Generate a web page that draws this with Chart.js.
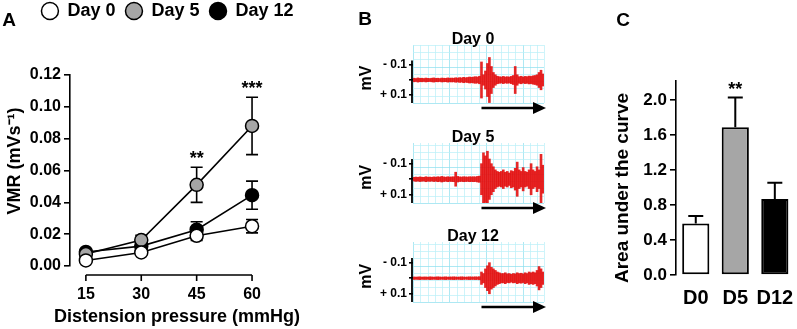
<!DOCTYPE html>
<html>
<head>
<meta charset="utf-8">
<title>VMR / EMG / AUC</title>
<script src="https://cdn.jsdelivr.net/npm/chart.js@4.4.1/dist/chart.umd.min.js"></script>
<style>
  html, body { margin: 0; padding: 0; background: #fff; }
  body { position: relative; width: 797px; height: 329px; overflow: hidden; }
  canvas { position: absolute; }
</style>
</head>
<body>
<canvas id="chart-a" width="335" height="337" style="left:0;top:-8px"></canvas>
<canvas id="trace-0" width="195" height="118" style="left:355px;top:0"></canvas>
<canvas id="trace-5" width="195" height="98" style="left:355px;top:118px"></canvas>
<canvas id="trace-12" width="195" height="113" style="left:355px;top:216px"></canvas>
<canvas id="chart-c" width="200" height="329" style="left:605px;top:0"></canvas>
<script>
/* ---------- Data (A) ---------- */
var PRESSURES = [15, 30, 45, 60];
var VMR_DAY0 = [0.0035, 0.0085, 0.019, 0.025];
var SEM_DAY0 = [0.001, 0.0012, 0.003, 0.0042];
var VMR_DAY5 = [0.0075, 0.0163, 0.051, 0.088];
var SEM_DAY5 = [0.001, 0.003, 0.011, 0.018];
var VMR_DAY12 = [0.0088, 0.0125, 0.0228, 0.0445];
var SEM_DAY12 = [0.001, 0.002, 0.005, 0.0088];
var VMR_TICKS = [0, 0.02, 0.04, 0.06, 0.08, 0.10, 0.12];

/* ---------- Data (B): trace envelope, mV per sample ---------- */
var TRACE_TICKS = [-0.1, 0, 0.1];
var TRACE_DAY0 = [
  0.012, 0.01, 0.014, 0.011, 0.012, 0.01, 0.013, 0.011, 0.01, 0.012,
  0.014, 0.011, 0.012, 0.01, 0.013, 0.012, 0.011, 0.014, 0.012, 0.013,
  0.012, 0.015, 0.013, 0.016, 0.014, 0.018, 0.015, 0.017, 0.02, 0.018,
  0.02, 0.022, 0.02, 0.025, 0.12, 0.035, 0.06, 0.11, 0.15, 0.09,
  0.05, 0.035, 0.025, 0.022, 0.02, 0.024, 0.02, 0.022, 0.02, 0.024,
  0.03, 0.09, 0.035, 0.022, 0.025, 0.02, 0.024, 0.022, 0.026, 0.024,
  0.028, 0.03, 0.035, 0.05, 0.065, 0.04
];
var TRACE_DAY5 = [
  0.012, 0.014, 0.012, 0.015, 0.013, 0.012, 0.016, 0.013, 0.014, 0.012,
  0.015, 0.013, 0.016, 0.014, 0.018, 0.015, 0.013, 0.016, 0.014, 0.015,
  0.016, 0.045, 0.018, 0.015, 0.014, 0.016, 0.015, 0.014, 0.016, 0.015,
  0.016, 0.015, 0.018, 0.02, 0.1, 0.17, 0.15, 0.18, 0.13, 0.1,
  0.08, 0.06, 0.05, 0.045, 0.05, 0.06, 0.045, 0.05, 0.04, 0.055,
  0.05, 0.07, 0.11, 0.06, 0.05, 0.075, 0.05, 0.045, 0.06, 0.1,
  0.06, 0.05, 0.08, 0.06, 0.16, 0.09
];
var TRACE_DAY12 = [
  0.008, 0.007, 0.008, 0.009, 0.007, 0.008, 0.008, 0.007, 0.009, 0.008,
  0.007, 0.008, 0.009, 0.008, 0.007, 0.008, 0.009, 0.007, 0.008, 0.008,
  0.009, 0.008, 0.007, 0.008, 0.009, 0.008, 0.007, 0.008, 0.009, 0.008,
  0.008, 0.009, 0.008, 0.01, 0.04, 0.03, 0.06, 0.08, 0.1, 0.07,
  0.06, 0.05, 0.04, 0.035, 0.03, 0.03, 0.035, 0.028, 0.03, 0.025,
  0.03, 0.028, 0.035, 0.03, 0.032, 0.028, 0.035, 0.03, 0.04, 0.035,
  0.04, 0.035, 0.05, 0.075, 0.06, 0.04
];

/* ---------- Data (C) ---------- */
var AUC_GROUPS = ['D0', 'D5', 'D12'];
var AUC_VALUES = [0.59, 1.69, 0.87];
var AUC_SEM = [0.085, 0.34, 0.185];
var AUC_TICKS = [0, 0.4, 0.8, 1.2, 1.6, 2.0];

var FONT = "'Liberation Sans', Arial, sans-serif";
var GREY = '#a6a6a6';
Chart.defaults.font.family = FONT;
Chart.defaults.color = '#000';

function bold(size) { return { family: FONT, weight: 'bold', size: size }; }

function putText(ctx, text, x, y, size, align, baseline, rotate) {
  ctx.save();
  ctx.font = 'bold ' + size + 'px ' + FONT;
  ctx.fillStyle = '#000';
  ctx.textAlign = align || 'center';
  ctx.textBaseline = baseline || 'middle';
  ctx.translate(x, y);
  if (rotate) ctx.rotate(-Math.PI / 2);
  ctx.fillText(text, 0, 0);
  ctx.restore();
}

function points(values) {
  return values.map(function (v, i) { return { x: PRESSURES[i], y: v }; });
}

/* ---------- Panel A ---------- */
var legendGap = {
  id: 'legendGap',
  beforeInit: function (chart) {
    var fit = chart.legend.fit;
    chart.legend.fit = function () { fit.call(this); this.height += 45; };
  }
};

var errorBarsA = {
  id: 'errorBarsA',
  beforeDatasetsDraw: function (chart) {
    var ctx = chart.ctx, x = chart.scales.x, y = chart.scales.y;
    ctx.save();
    ctx.strokeStyle = '#000';
    ctx.lineWidth = 1.6;
    chart.data.datasets.forEach(function (ds) {
      ds.data.forEach(function (p, i) {
        var px = x.getPixelForValue(p.x);
        var top = y.getPixelForValue(p.y + ds.sem[i]);
        var bot = y.getPixelForValue(p.y - ds.sem[i]);
        ctx.beginPath();
        ctx.moveTo(px, top); ctx.lineTo(px, bot);
        ctx.moveTo(px - 6, top); ctx.lineTo(px + 6, top);
        ctx.moveTo(px - 6, bot); ctx.lineTo(px + 6, bot);
        ctx.stroke();
      });
    });
    ctx.restore();
  }
};

var decorA = {
  id: 'decorA',
  afterDraw: function (chart) {
    var ctx = chart.ctx, x = chart.scales.x, y = chart.scales.y, area = chart.chartArea;
    var axisY = area.bottom + 9;
    ctx.save();
    ctx.strokeStyle = '#000';
    ctx.lineWidth = 1.6;
    ctx.beginPath();
    ctx.moveTo(x.getPixelForValue(PRESSURES[0]), axisY);
    ctx.lineTo(x.getPixelForValue(PRESSURES[PRESSURES.length - 1]), axisY);
    PRESSURES.forEach(function (p) {
      ctx.moveTo(x.getPixelForValue(p), axisY);
      ctx.lineTo(x.getPixelForValue(p), axisY + 6);
    });
    ctx.stroke();
    ctx.restore();

    putText(ctx, 'A', 9, 29, 19);
    putText(ctx, 'VMR (mVs\u207B\u00B9)', 15, 169, 18, 'center', 'middle', true);
    putText(ctx, 'Distension pressure (mmHg)', 177, 325, 18);
    putText(ctx, '**', x.getPixelForValue(PRESSURES[2]), y.getPixelForValue(VMR_DAY5[2] + SEM_DAY5[2]) - 3, 18, 'center', 'alphabetic');
    putText(ctx, '***', x.getPixelForValue(PRESSURES[3]), y.getPixelForValue(VMR_DAY5[3] + SEM_DAY5[3]) - 3, 18, 'center', 'alphabetic');
  }
};

function seriesA(label, values, sem, fill) {
  return {
    label: label, data: points(values), sem: sem,
    borderColor: '#000', borderWidth: 1.6, backgroundColor: fill,
    pointBackgroundColor: fill, pointBorderColor: '#000', pointBorderWidth: 1.5,
    pointRadius: 6.5, pointStyle: 'circle', tension: 0, clip: false
  };
}

new Chart(document.getElementById('chart-a'), {
  type: 'line',
  data: {
    datasets: [
      seriesA('Day 0', VMR_DAY0, SEM_DAY0, '#fff'),
      seriesA('Day 5', VMR_DAY5, SEM_DAY5, GREY),
      seriesA('Day 12', VMR_DAY12, SEM_DAY12, '#000')
    ]
  },
  options: {
    responsive: false,
    animation: false,
    layout: { padding: 0 },
    plugins: {
      tooltip: { enabled: false },
      legend: {
        position: 'top',
        labels: { usePointStyle: true, boxWidth: 17, boxHeight: 12, padding: 10, color: '#000', font: bold(18) }
      }
    },
    scales: {
      x: {
        type: 'linear', min: 10.7, max: 80.3,
        afterBuildTicks: function (s) { s.ticks = PRESSURES.map(function (v) { return { value: v }; }); },
        afterFit: function (s) { s.height = 63; },
        border: { display: false },
        grid: { display: false, drawTicks: false },
        ticks: { padding: 19, color: '#000', font: bold(16) }
      },
      y: {
        min: 0, max: 0.12,
        afterBuildTicks: function (s) { s.ticks = VMR_TICKS.map(function (v) { return { value: v }; }); },
        afterFit: function (s) { s.width = 70; },
        border: { display: true, color: '#000', width: 1.6 },
        grid: { drawOnChartArea: false, tickLength: 6, color: '#000', lineWidth: 1.6 },
        ticks: { padding: 3, color: '#000', font: bold(16), callback: function (v) { return v.toFixed(2); } }
      }
    }
  },
  plugins: [legendGap, errorBarsA, decorA]
});

/* ---------- Panel B ---------- */
var TRACE_MIN = -0.233, TRACE_MAX = 0.153;

function traceDecor(title, letter) {
  return {
    id: 'traceDecor',
    beforeDatasetsDraw: function (chart) {
      var ctx = chart.ctx, a = chart.chartArea, k, gx, gy;
      ctx.save();
      ctx.lineWidth = 1;
      for (k = 0, gx = a.left; gx <= a.right + 0.5; k++, gx += 7.3) {
        ctx.strokeStyle = k % 5 === 0 ? 'rgba(140,222,238,0.7)' : 'rgba(185,240,248,0.7)';
        ctx.beginPath(); ctx.moveTo(Math.round(gx) + 0.5, a.top); ctx.lineTo(Math.round(gx) + 0.5, a.bottom); ctx.stroke();
      }
      for (k = 0, gy = a.bottom; gy >= a.top - 0.5; k++, gy -= 7.3) {
        ctx.strokeStyle = k % 5 === 0 ? 'rgba(140,222,238,0.7)' : 'rgba(185,240,248,0.7)';
        ctx.beginPath(); ctx.moveTo(a.left, Math.round(gy) + 0.5); ctx.lineTo(a.right, Math.round(gy) + 0.5); ctx.stroke();
      }
      ctx.restore();
    },
    afterDraw: function (chart) {
      var ctx = chart.ctx, a = chart.chartArea, x = chart.scales.x, y = chart.scales.y;
      ctx.save();
      ctx.strokeStyle = '#000';
      ctx.fillStyle = '#000';
      ctx.lineWidth = 1.8;
      ctx.beginPath();
      ctx.moveTo(a.left - 1, y.getPixelForValue(-0.13));
      ctx.lineTo(a.left - 1, y.getPixelForValue(TRACE_MAX));
      ctx.stroke();
      var ay = a.bottom + 5, x0 = x.getPixelForValue(34), x1 = a.right + 2;
      ctx.lineWidth = 2.6;
      ctx.beginPath(); ctx.moveTo(x0, ay); ctx.lineTo(x1 - 10, ay); ctx.stroke();
      ctx.beginPath(); ctx.moveTo(x1, ay); ctx.lineTo(x1 - 13, ay - 6); ctx.lineTo(x1 - 13, ay + 6); ctx.closePath(); ctx.fill();
      ctx.restore();
      putText(ctx, title, a.left + 60, a.top - 5, 16);
      putText(ctx, 'mV', 12, y.getPixelForValue(0) - 2, 16, 'center', 'middle', true);
      if (letter) putText(ctx, letter, 10, 20, 19);
    }
  };
}

function makeTrace(canvasId, title, amps, padTop, padBottom, letter) {
  return new Chart(document.getElementById(canvasId), {
    type: 'bar',
    data: {
      labels: amps.map(function (a, i) { return i; }),
      datasets: [{
        data: amps.map(function (a) { return [-a, a]; }),
        backgroundColor: 'rgba(226,10,10,0.88)',
        borderWidth: 0, barPercentage: 1, categoryPercentage: 1
      }]
    },
    options: {
      responsive: false,
      animation: false,
      layout: { padding: { top: padTop, bottom: padBottom, right: 6, left: 0 } },
      plugins: { legend: { display: false }, tooltip: { enabled: false } },
      scales: {
        x: { display: false },
        y: {
          reverse: true, min: TRACE_MIN, max: TRACE_MAX,
          afterBuildTicks: function (s) { s.ticks = TRACE_TICKS.map(function (v) { return { value: v }; }); },
          afterFit: function (s) { s.width = 58; },
          border: { display: false },
          grid: { drawOnChartArea: false, tickLength: 4, color: '#000', lineWidth: 1.6 },
          ticks: {
            padding: 2, color: '#000', font: bold(12),
            callback: function (v) { return v === 0 ? '' : (v < 0 ? '- ' : '+ ') + Math.abs(v).toFixed(1); }
          }
        }
      }
    },
    plugins: [traceDecor(title, letter)]
  });
}

makeTrace('trace-0', 'Day 0', TRACE_DAY0, 45, 15, 'B');
makeTrace('trace-5', 'Day 5', TRACE_DAY5, 25, 13);
makeTrace('trace-12', 'Day 12', TRACE_DAY12, 26, 27);

/* ---------- Panel C ---------- */
var errorBarsC = {
  id: 'errorBarsC',
  afterDatasetsDraw: function (chart) {
    var ctx = chart.ctx, x = chart.scales.x, y = chart.scales.y;
    ctx.save();
    ctx.strokeStyle = '#000';
    ctx.lineWidth = 2;
    AUC_VALUES.forEach(function (v, i) {
      var px = x.getPixelForValue(i), top = y.getPixelForValue(v + AUC_SEM[i]);
      ctx.beginPath();
      ctx.moveTo(px, y.getPixelForValue(v)); ctx.lineTo(px, top);
      ctx.moveTo(px - 7.5, top); ctx.lineTo(px + 7.5, top);
      ctx.stroke();
    });
    ctx.restore();
    putText(ctx, '**', x.getPixelForValue(1), y.getPixelForValue(AUC_VALUES[1] + AUC_SEM[1]) - 3, 18, 'center', 'alphabetic');
    putText(ctx, 'C', 18, 21, 19);
    putText(ctx, 'Area under the curve', 18, 188, 19, 'center', 'middle', true);
  }
};

new Chart(document.getElementById('chart-c'), {
  type: 'bar',
  data: {
    labels: AUC_GROUPS,
    datasets: [{
      data: AUC_VALUES,
      backgroundColor: ['#fff', GREY, '#000'],
      borderColor: '#000', borderWidth: 2, borderSkipped: false,
      barPercentage: 0.687, categoryPercentage: 1
    }]
  },
  options: {
    responsive: false,
    animation: false,
    layout: { padding: { top: 81, right: 5, left: 0, bottom: 0 } },
    plugins: { legend: { display: false }, tooltip: { enabled: false } },
    scales: {
      x: {
        afterFit: function (s) { s.height = 54; },
        border: { display: false },
        grid: { display: false, drawTicks: false },
        ticks: { padding: 11, color: '#000', font: bold(20), autoSkip: false, maxRotation: 0, minRotation: 0 }
      },
      y: {
        min: 0, max: 2.22,
        afterBuildTicks: function (s) { s.ticks = AUC_TICKS.map(function (v) { return { value: v }; }); },
        afterFit: function (s) { s.width = 71; },
        border: { display: true, color: '#000', width: 1.6 },
        grid: { drawOnChartArea: false, tickLength: 6, color: '#000', lineWidth: 1.6 },
        ticks: { padding: 3, color: '#000', font: bold(17), callback: function (v) { return v.toFixed(1); } }
      }
    }
  },
  plugins: [errorBarsC]
});
</script>
</body>
</html>
